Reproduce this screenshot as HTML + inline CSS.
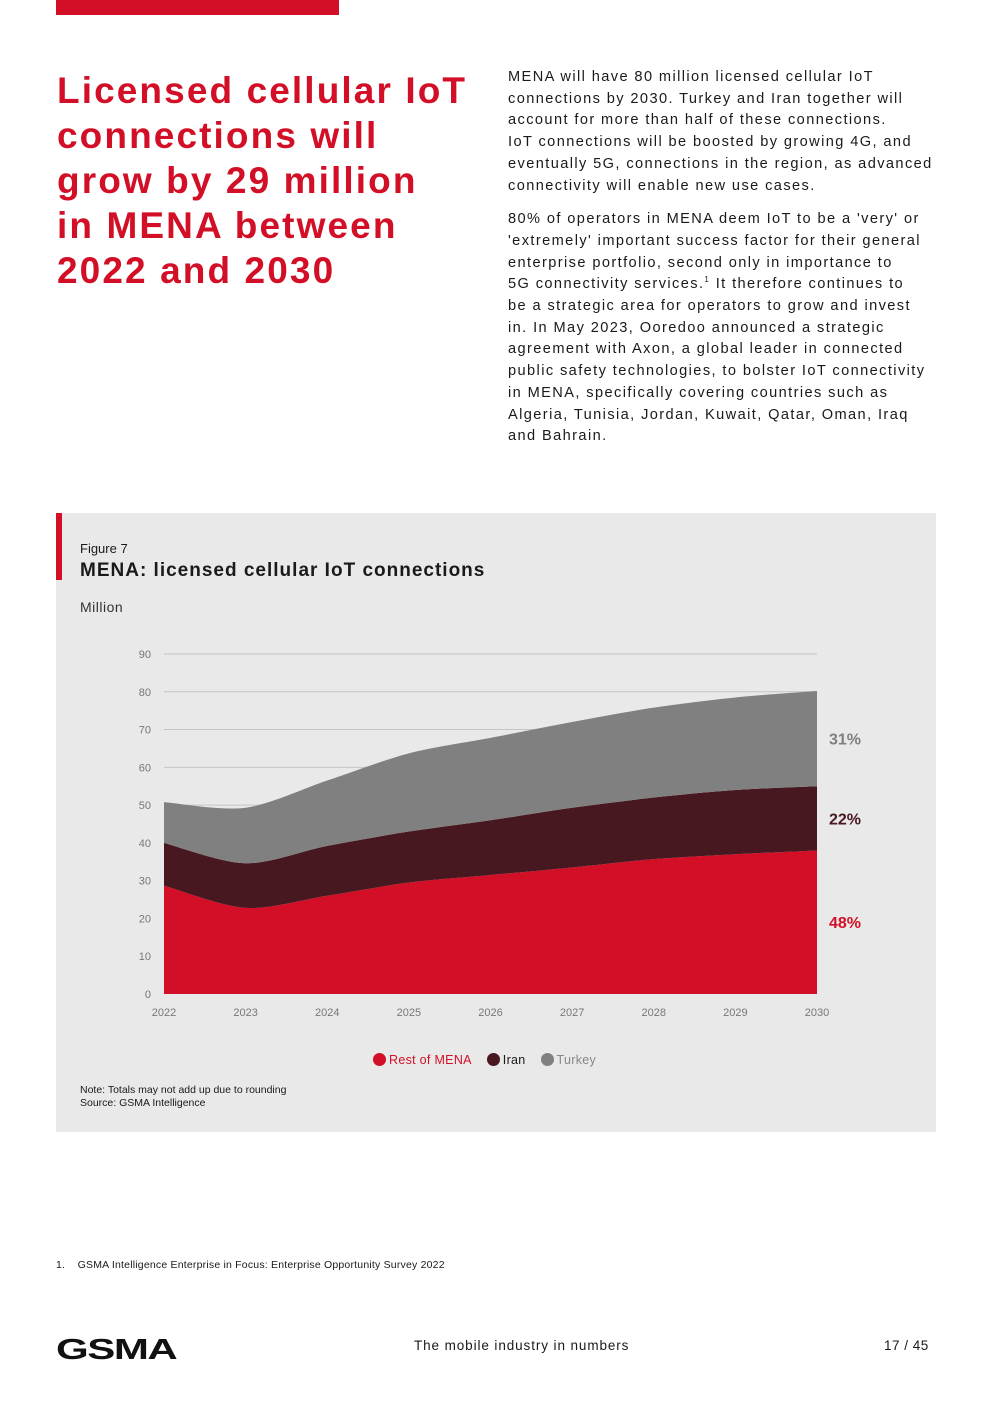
<!DOCTYPE html>
<html><head><meta charset="utf-8"><style>
body{margin:0;width:992px;height:1403px;background:#fff;font-family:"Liberation Sans",sans-serif;position:relative;overflow:hidden;color:#1a1a1a}
.abs{position:absolute}
h1{position:absolute;left:57px;top:68px;margin:0;font-size:37px;line-height:45px;color:#d20f26;font-weight:bold;white-space:nowrap;letter-spacing:2.1px}
.body{left:508px;font-size:14.6px;line-height:21.7px;letter-spacing:1.4px;white-space:nowrap}
.body p{margin:0 0 12px 0}
</style></head><body>
<div class="abs" style="left:56px;top:0;width:283px;height:15px;background:#d20f26"></div>
<h1>Licensed cellular IoT<br>connections will<br>grow by 29 million<br>in MENA between<br>2022 and 2030</h1>
<div class="abs body" style="top:67px">
<p>MENA will have 80 million licensed cellular IoT<br>connections by 2030. Turkey and Iran together will<br>account for more than half of these connections.<br>IoT connections will be boosted by growing 4G, and<br>eventually 5G, connections in the region, as advanced<br>connectivity will enable new use cases.</p>
<p>80% of operators in MENA deem IoT to be a 'very' or<br>'extremely' important success factor for their general<br>enterprise portfolio, second only in importance to<br>5G connectivity services.<sup style="font-size:8px;line-height:0">1</sup> It therefore continues to<br>be a strategic area for operators to grow and invest<br>in. In May 2023, Ooredoo announced a strategic<br>agreement with Axon, a global leader in connected<br>public safety technologies, to bolster IoT connectivity<br>in MENA, specifically covering countries such as<br>Algeria, Tunisia, Jordan, Kuwait, Qatar, Oman, Iraq<br>and Bahrain.</p>
</div>
<div class="abs" style="left:56px;top:513px;width:880px;height:619px;background:#e8e9e8"></div>
<div class="abs" style="left:56px;top:513px;width:6px;height:67px;background:#d20f26"></div>
<div class="abs" style="left:80px;top:541px;font-size:13px">Figure 7</div>
<div class="abs" style="left:80px;top:560px;font-size:19px;font-weight:bold;letter-spacing:1px">MENA: licensed cellular IoT connections</div>
<div class="abs" style="left:80px;top:599px;font-size:14px;color:#333;letter-spacing:0.5px">Million</div>
<svg class="abs" style="left:0;top:0" width="992" height="1403" id="chart"></svg>
<div class="abs" style="left:373px;top:1053px;font-size:12.5px;display:flex;gap:15px;align-items:center;letter-spacing:0.3px">
<span style="color:#d20f26"><span style="display:inline-block;width:13px;height:13px;border-radius:50%;background:#d20f26;vertical-align:-2px;margin-right:3px"></span>Rest of MENA</span>
<span><span style="display:inline-block;width:13px;height:13px;border-radius:50%;background:#471820;vertical-align:-2px;margin-right:3px"></span>Iran</span>
<span style="color:#888"><span style="display:inline-block;width:13px;height:13px;border-radius:50%;background:#808080;vertical-align:-2px;margin-right:3px"></span>Turkey</span>
</div>
<div class="abs" style="left:80px;top:1084px;font-size:10.5px;line-height:13px">Note: Totals may not add up due to rounding<br>Source: GSMA Intelligence</div>
<div class="abs" style="left:56px;top:1259px;font-size:10.5px;letter-spacing:0.2px">1.&nbsp;&nbsp;&nbsp;&nbsp;GSMA Intelligence Enterprise in Focus: Enterprise Opportunity Survey 2022</div>
<div class="abs" style="left:56px;top:1334px;font-size:29px;font-weight:900;letter-spacing:-1px;transform:scaleX(1.45);transform-origin:left;color:#111">GSMA</div>
<div class="abs" style="left:414px;top:1338px;font-size:13.5px;letter-spacing:0.9px">The mobile industry in numbers</div>
<div class="abs" style="left:884px;top:1338px;font-size:13.5px;letter-spacing:0.5px">17 / 45</div>
<script>
const years=['2022','2023','2024','2025','2026','2027','2028','2029','2030'];
const restOfMena=[28.7,22.8,26,29.5,31.5,33.5,35.7,37,38];
const iran=[11.3,11.8,13.2,13.5,14.5,15.8,16.3,17,17];
const turkey=[10.8,14.7,17.3,20.7,21.8,22.7,23.8,24.5,25.2];
const yTicks=[0,10,20,30,40,50,60,70,80,90];
const shares=['48%','22%','31%'];
const svg=document.getElementById('chart');const NS='http://www.w3.org/2000/svg';
const x=i=>164+i*(817-164)/(years.length-1);
const y=v=>994-v*(994-654)/90;
function mk(t,a){const e=document.createElementNS(NS,t);for(const k in a)e.setAttribute(k,a[k]);svg.appendChild(e);return e;}
yTicks.forEach(t=>{
 if(t>0){const l=mk('line',{x1:164,x2:817,y1:y(t),y2:y(t),stroke:'#c4c4c4','stroke-width':1});
 
 }
 const tx=mk('text',{x:151,y:y(t)+4,'text-anchor':'end','font-size':11,fill:'#777','font-family':'Liberation Sans'});tx.textContent=t;
 
 
});
function curve(pts){let d='';for(let i=0;i<pts.length;i++){const p=pts[i];if(i==0){d+='M'+p[0]+','+p[1];continue;}
 const p0=pts[i-2]||pts[i-1],p1=pts[i-1],p3=pts[i+1]||p,k=0.15;
 d+=`C${p1[0]+(p[0]-p0[0])*k},${p1[1]+(p[1]-p0[1])*k} ${p[0]-(p3[0]-p1[0])*k},${p[1]-(p3[1]-p1[1])*k} ${p[0]},${p[1]}`;}return d;}
const series=[restOfMena,iran,turkey],cols=['#d20f26','#471820','#808080'],names=['area-rest-of-mena','area-iran','area-turkey'];
let base=years.map(()=>0);
series.forEach((s,si)=>{
 const top=base.map((b,i)=>b+s[i]);
 const tp=top.map((v,i)=>[x(i),y(v)]);const bp=base.map((v,i)=>[x(i),y(v)]).reverse();
 let d=curve(tp)+'L'+bp[0][0]+','+bp[0][1]+curve(bp).replace(/^M/,'L')+'Z';
 const p=mk('path',{d:d,fill:cols[si]});
 
 
 const last=years.length-1;
 const t=mk('text',{x:845,y:y((base[last]+top[last])/2)+6,'text-anchor':'middle','font-size':16,'font-weight':'bold',fill:cols[si],'font-family':'Liberation Sans'});t.textContent=shares[si];
 
 
 base=top;
});
years.forEach((yr,i)=>{
 const t=mk('text',{x:x(i),y:1016,'text-anchor':'middle','font-size':11,fill:'#777','font-family':'Liberation Sans'});t.textContent=yr;
 
 
});
</script>
</body></html>
